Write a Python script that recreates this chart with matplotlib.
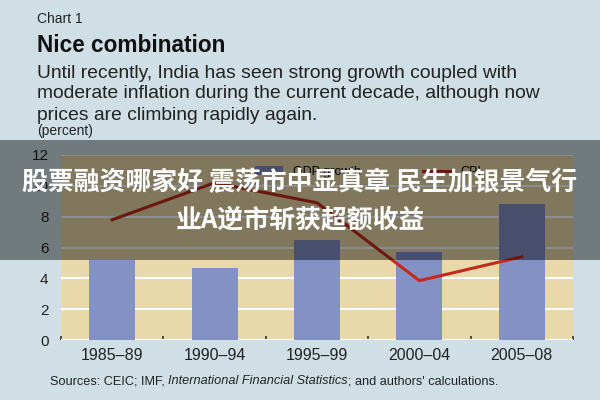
import matplotlib
matplotlib.use("Agg")
import matplotlib.pyplot as plt
from matplotlib.patches import Rectangle
import numpy as np

categories = ["1985\u201389", "1990\u201394", "1995\u201399", "2000\u201304", "2005\u201308"]
gdp_growth = [5.2, 4.7, 6.5, 5.7, 8.8]
cpi = [7.8, 10.2, 8.9, 3.85, 5.4]
yticks = [0, 2, 4, 6, 8, 10, 12]

BG = "#cfdfe5"
PLOT_BG = "#e9d9aa"
BAR = "#8491c5"
LINE = "#c42a1c"
TXT = "#222222"
FONT = "Liberation Sans"

fig = plt.figure(figsize=(6, 4), dpi=100, facecolor=BG)
ax = fig.add_axes([61/600, 60/400, 512/600, 185/400])
ax.set_facecolor(PLOT_BG)

x = np.arange(len(categories))
bars = ax.bar(x, gdp_growth, width=0.45, color=BAR, zorder=3, label="GDP growth")
line, = ax.plot(x, cpi, color=LINE, lw=2.2, zorder=4, label="CPI")

ax.set_xlim(-0.5, len(categories) - 0.5)
ax.set_ylim(0, 12)
ax.set_yticks(yticks)
ax.set_yticklabels([str(v) for v in yticks], fontsize=11, color=TXT, family=FONT)
ax.set_xticks(x)
ax.set_xticklabels(categories, fontsize=11.5, color=TXT, family=FONT)
ax.set_xticks(np.arange(-0.5, len(categories)), minor=True)
ax.tick_params(axis="x", which="major", length=0, pad=6)
ax.tick_params(axis="x", which="minor", length=3, width=1.2, color="#333333", direction="in")
ax.tick_params(axis="y", length=0, pad=9)
ax.grid(axis="y", color="white", lw=1.5, zorder=1)
for s in ax.spines.values():
    s.set_visible(False)

ax.legend([bars, line], ["GDP growth", "CPI"], loc="upper center", bbox_to_anchor=(0.6, 1.0),
          ncol=2, frameon=False, handlelength=2.2, columnspacing=5,
          prop={"family": FONT, "size": 9})

# Header texts
fig.text(37/600, 1 - 19/400, "Chart 1", fontsize=10, color=TXT, family=FONT, va="center")
fig.text(37/600, 1 - 46/400, "Nice combination", fontsize=16.3, fontweight="bold", color="#111111",
         family=FONT, va="center")
sub = ["Until recently, India has seen strong growth coupled with",
       "moderate inflation during the current decade, although now",
       "prices are climbing rapidly again."]
for i, s in enumerate(sub):
    fig.text(37/600, 1 - (73 + 21 * i)/400, s, fontsize=13.85, color=TXT, family=FONT, va="center")
fig.text(37/600, 1 - 131/400, "(percent)", fontsize=10, color=TXT, family=FONT, va="center")

# Source line with italic part
src = [("Sources: CEIC; IMF, ", "normal"), ("International Financial Statistics", "italic"),
       ("; and authors' calculations.", "normal")]
xpos = 50
for s, style in src:
    t = fig.text(xpos/600, 1 - 381/400, s, fontsize=9.2, color=TXT, family=FONT,
                 style=style, va="center")
    fig.canvas.draw()
    bb = t.get_window_extent(renderer=fig.canvas.get_renderer())
    xpos += bb.width

# Overlay band
fig.patches.append(Rectangle((0, 140/400), 1, 120/400, transform=fig.transFigure,
                             facecolor="black", alpha=0.45, zorder=10))
for txt, yy in [("股票融资哪家好 震荡市中显真章 民生加银景气行", 183), ("业A逆市斩获超额收益", 220)]:
    fig.text(0.5, 1 - yy/400, txt, fontsize=18.6, fontweight="bold", color="white",
             ha="center", va="center", family=["Noto Sans CJK SC", "DejaVu Sans"], zorder=11)

fig.savefig("out.png", dpi=100, facecolor=BG)
